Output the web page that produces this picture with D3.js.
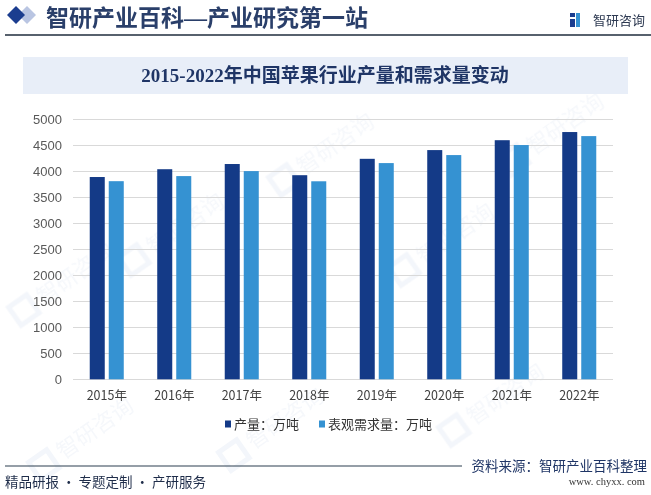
<!DOCTYPE html>
<html>
<head>
<meta charset="utf-8">
<script src="https://cdn.jsdelivr.net/npm/d3@7/dist/d3.min.js"></script>
<style>
  html, body { margin: 0; padding: 0; background: #ffffff; }
  svg { display: block; }
</style>
</head>
<body>
<div id="chart"></div>
<script>
// ---- data ----
const categories = ["2015年", "2016年", "2017年", "2018年", "2019年", "2020年", "2021年", "2022年"];
const seriesNames = ["产量：万吨", "表观需求量：万吨"];
const production = [3890, 4040, 4140, 3925, 4240, 4408, 4598, 4755];
const demand = [3810, 3908, 4004, 3808, 4158, 4312, 4505, 4677];
const yTicks = [0, 500, 1000, 1500, 2000, 2500, 3000, 3500, 4000, 4500, 5000];
const seriesColors = ["#143a87", "#3592d2"];

const W = 651, H = 495;
const svg = d3.select("#chart").append("svg").attr("width", W).attr("height", H);
const CJK = "'Noto Sans CJK SC', 'Noto Sans', sans-serif";
const SERIF = "'Liberation Serif', 'Noto Sans CJK SC', serif";
const ARIAL = "'Liberation Sans', 'Noto Sans CJK SC', sans-serif";

// ---- watermarks (faint) ----
const wm = svg.append("g").attr("opacity", 0.22);
[[40, 300], [150, 250], [300, 170], [420, 260], [530, 150], [250, 445], [60, 455], [470, 420]].forEach(([x, yy]) => {
  const g = wm.append("g").attr("transform", `translate(${x},${yy}) rotate(-35)`);
  g.append("rect").attr("x", -30).attr("y", -12).attr("width", 22).attr("height", 22).attr("fill", "none")
    .attr("stroke", "#c9d6ea").attr("stroke-width", 5);
  g.append("text").attr("x", 0).attr("y", 6).attr("font-family", CJK).attr("font-size", 22)
    .attr("fill", "#d4deee").text("智研咨询");
});

// ---- header ----
svg.append("path").attr("d", "M27,6 L36,15 L27,24 L18,15 Z").attr("fill", "#b9c5e2");
svg.append("path").attr("d", "M16,6 L25,15 L16,24 L7,15 Z").attr("fill", "#1b3d8f");
svg.append("text").attr("x", 46).attr("y", 26).attr("font-family", SERIF).attr("font-size", 23)
  .attr("font-weight", "bold").attr("fill", "#2a3f6a").text("智研产业百科—产业研究第一站");
svg.append("line").attr("x1", 5).attr("x2", 651).attr("y1", 35).attr("y2", 35)
  .attr("stroke", "#1f2d3d").attr("stroke-width", 1.5);
// logo
svg.append("rect").attr("x", 570).attr("y", 13).attr("width", 5).attr("height", 4).attr("fill", "#1b3d8f");
svg.append("rect").attr("x", 570).attr("y", 19).attr("width", 5).attr("height", 8).attr("fill", "#1b3d8f");
svg.append("rect").attr("x", 576).attr("y", 13).attr("width", 4).attr("height", 14).attr("fill", "#3592d2");
svg.append("text").attr("x", 593).attr("y", 25).attr("font-family", CJK).attr("font-size", 13)
  .attr("fill", "#2e3a52").text("智研咨询");

// ---- title band ----
svg.append("rect").attr("x", 23).attr("y", 57).attr("width", 605).attr("height", 37).attr("fill", "#e8eef8");
svg.append("text").attr("x", 325).attr("y", 82).attr("text-anchor", "middle").attr("font-family", SERIF)
  .attr("font-size", 19).attr("font-weight", "bold").attr("fill", "#1f3566")
  .text("2015-2022年中国苹果行业产量和需求量变动");

// ---- chart ----
const plotLeft = 73, plotRight = 613, plotTop = 119.3, plotBottom = 379.3;
const x0 = d3.scaleBand().domain(categories).range([plotLeft, plotRight]).paddingInner(0.496).paddingOuter(0.248);
const x1 = d3.scaleBand().domain(seriesNames).range([0, x0.bandwidth()]).paddingInner(0.21).paddingOuter(0);
const y = d3.scaleLinear().domain([0, 5000]).range([plotBottom, plotTop]);

// grid
svg.append("g").selectAll("line").data(yTicks).join("line")
  .attr("x1", plotLeft).attr("x2", plotRight)
  .attr("y1", d => Math.round(y(d)) + 0.5).attr("y2", d => Math.round(y(d)) + 0.5)
  .attr("stroke", "#d9d9d9").attr("stroke-width", 1);

// y axis
const yAxis = svg.append("g").attr("transform", `translate(${plotLeft - 11},0)`)
  .call(d3.axisLeft(y).tickValues(yTicks).tickSize(0).tickPadding(0).tickFormat(d3.format("d")));
yAxis.select(".domain").remove();
yAxis.selectAll("text").attr("font-family", ARIAL).attr("font-size", 13).attr("fill", "#595959");

// x axis
const xAxis = svg.append("g").attr("transform", `translate(0,${plotBottom})`)
  .call(d3.axisBottom(x0).tickSize(0).tickPadding(12));
xAxis.select(".domain").remove();
xAxis.selectAll("text").attr("font-family", CJK).attr("font-size", 12.5).attr("fill", "#404040");

// bars
const seriesData = [production, demand];
const groups = svg.append("g").selectAll("g").data(categories).join("g")
  .attr("transform", d => `translate(${x0(d)},0)`);
groups.selectAll("rect").data((d, i) => seriesNames.map((s, k) => ({ s, k, v: seriesData[k][i] })))
  .join("rect")
  .attr("x", d => x1(d.s)).attr("width", x1.bandwidth())
  .attr("y", d => y(d.v)).attr("height", d => plotBottom - y(d.v))
  .attr("fill", d => seriesColors[d.k]);

// legend
const legendPos = [225, 319];
const lg = svg.append("g").selectAll("g").data(seriesNames).join("g")
  .attr("transform", (d, i) => `translate(${legendPos[i]},424)`);
lg.append("rect").attr("x", 0).attr("y", -3.5).attr("width", 6).attr("height", 7).attr("fill", (d, i) => seriesColors[i]);
lg.append("text").attr("x", 9).attr("y", 4.5).attr("font-family", CJK).attr("font-size", 13)
  .attr("fill", "#333333").text(d => d);

// ---- footer ----
svg.append("line").attr("x1", 5).attr("x2", 462).attr("y1", 466).attr("y2", 466)
  .attr("stroke", "#2c3e50").attr("stroke-width", 1.2);
svg.append("text").attr("x", 5).attr("y", 487).attr("font-family", CJK).attr("font-size", 13.5)
  .attr("fill", "#1f2d4a").text("精品研报 · 专题定制 · 产研服务");
svg.append("text").attr("x", 647).attr("y", 471).attr("text-anchor", "end").attr("font-family", CJK)
  .attr("font-size", 13.5).attr("fill", "#1f3566").text("资料来源：智研产业百科整理");
svg.append("text").attr("x", 645).attr("y", 485).attr("text-anchor", "end").attr("font-family", SERIF)
  .attr("font-size", 10.5).attr("fill", "#333333").text("www. chyxx. com");
</script>
</body>
</html>
